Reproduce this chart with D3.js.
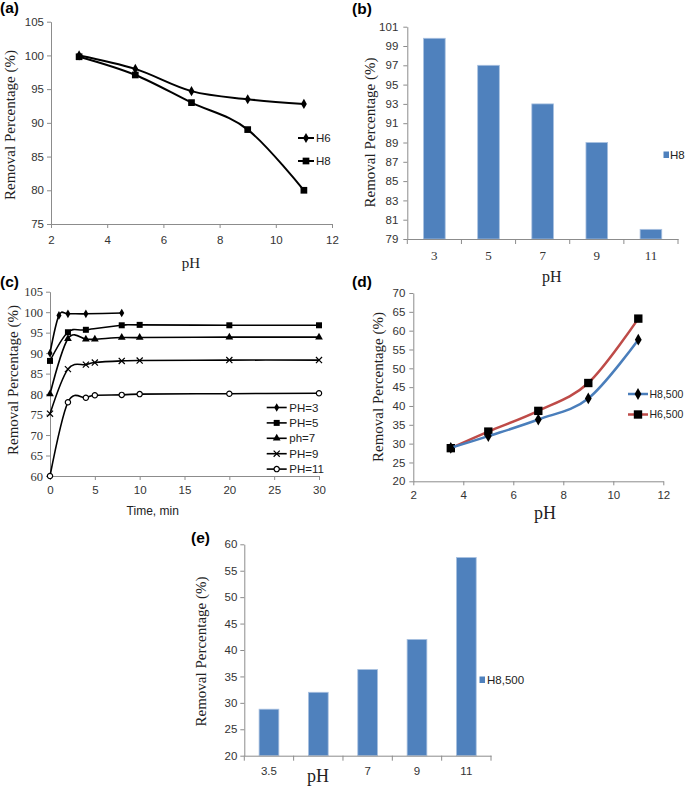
<!DOCTYPE html>
<html><head><meta charset="utf-8">
<script src="https://cdn.jsdelivr.net/npm/d3@7"></script>
<style>body{margin:0;background:#fff}</style>
</head><body><svg id="c" width="685" height="786" xmlns="http://www.w3.org/2000/svg"></svg>
<script>
// ---------- data ----------
// (a)
const pHA = [3, 5, 7, 9, 11];
const aH6 = [100, 98, 94.7, 93.5, 92.8];
const aH8 = [99.8, 97.1, 93, 89, 80];
const yTicksA = [75, 80, 85, 90, 95, 100, 105];
const xTicksA = [2, 4, 6, 8, 10, 12];
// (b)
const pHB = ["3", "5", "7", "9", "11"];
const bH8 = [99.8, 97, 93, 89, 80];
const yTicksB = [79, 81, 83, 85, 87, 89, 91, 93, 95, 97, 99, 101];
// (c)
const cNames = ["PH=3", "PH=5", "ph=7", "PH=9", "PH=11"];
const cT3 = [0, 1, 2, 4, 8];
const cPH3 = [90, 99.2, 99.6, 99.6, 99.8];
const cT5 = [0, 2, 4, 8, 10, 20, 30];
const cPH5 = [88.1, 95.1, 95.7, 96.8, 96.9, 96.8, 96.8];
const cT7 = [0, 2, 4, 5, 8, 10, 20, 30];
const cPH7 = [80, 93.5, 93.4, 93.4, 93.8, 93.8, 93.9, 93.9];
const cT9 = [0, 2, 4, 5, 8, 10, 20, 30];
const cPH9 = [75.2, 86.1, 87.2, 87.7, 88.1, 88.2, 88.3, 88.3];
const cT11 = [0, 2, 4, 5, 8, 10, 20, 30];
const cPH11 = [60, 78, 79.1, 79.7, 79.8, 80, 80.1, 80.2];
const yTicksC = [60, 65, 70, 75, 80, 85, 90, 95, 100, 105];
const xTicksC = [0, 5, 10, 15, 20, 25, 30];
// (d)
const pHD = [3.5, 5, 7, 9, 11];
const dH8 = [28.9, 32, 36.4, 42, 57.6];
const dH6 = [28.8, 33.2, 38.7, 46.1, 63.2];
const yTicksD = [20, 25, 30, 35, 40, 45, 50, 55, 60, 65, 70];
const xTicksD = [2, 4, 6, 8, 10, 12];
// (e)
const pHE = ["3.5", "5", "7", "9", "11"];
const eH8 = [28.8, 32, 36.3, 42, 57.5];
const yTicksE = [20, 25, 30, 35, 40, 45, 50, 55, 60];

// ---------- style ----------
const SERIF = "'Liberation Serif','Times New Roman',serif";
const NARROW = "'Liberation Sans',Arial,sans-serif";
const SANS = "'Liberation Sans',Arial,sans-serif";
const AX = "#8c8c8c";
const TXT = "#333";
const BLUE = "#4f81bd";
const TS = 11.5;

const svg = d3.select("#c");
svg.append("rect").attr("width", 685).attr("height", 786).attr("fill", "#fff");

function styleAxis(g, font, size) {
  g.select(".domain").attr("stroke", AX);
  g.selectAll(".tick line").attr("stroke", AX);
  g.selectAll(".tick text").attr("fill", TXT).style("font-family", font).style("font-size", size + "px");
}
function yAxis(scale, x, ticks, font, size, pad) {
  const g = svg.append("g").attr("transform", `translate(${x},0)`)
    .call(d3.axisLeft(scale).tickValues(ticks).tickSize(4).tickSizeOuter(0).tickPadding(pad));
  styleAxis(g, font, size);
  return g;
}
function xAxis(scale, y, ticks, font, size, pad) {
  const g = svg.append("g").attr("transform", `translate(0,${y})`)
    .call(d3.axisBottom(scale).tickValues(ticks).tickSize(4).tickSizeOuter(0).tickPadding(pad));
  styleAxis(g, font, size);
  return g;
}
function bandAxis(scale, y, font, size, pad, fmt) {
  const g = svg.append("g").attr("transform", `translate(0,${y})`)
    .call(d3.axisBottom(scale).tickSize(0).tickSizeOuter(0).tickPadding(pad).tickFormat(fmt || (d => d)));
  styleAxis(g, font, size);
  const r = scale.range();
  const n = scale.domain().length;
  for (let i = 0; i <= n; i++) {
    const xx = r[0] + i * (r[1] - r[0]) / n;
    g.append("line").attr("x1", xx).attr("x2", xx).attr("y1", 0).attr("y2", 5).attr("stroke", AX);
  }
  return g;
}
function yLabel(cx, cy, size) {
  svg.append("text").attr("transform", `translate(${cx},${cy}) rotate(-90)`)
    .attr("text-anchor", "middle").attr("dy", "0.35em")
    .style("font-family", SERIF).style("font-size", size + "px").attr("fill", "#222")
    .text("Removal Percentage (%)");
}
function text(x, y, s, font, size, anchor) {
  return svg.append("text").attr("x", x).attr("y", y).attr("dy", "0.35em")
    .attr("text-anchor", anchor || "middle")
    .style("font-family", font).style("font-size", size + "px")
    .attr("fill", "#222").text(s);
}
function panelTag(x, y, s) {
  svg.append("text").attr("x", x).attr("y", y).style("font-family", SANS)
    .style("font-size", "15.5px").style("font-weight", "bold").attr("fill", "#000").text(s);
}
function marker(type, size, cx, cy, fill, stroke, sw) {
  svg.append("path").attr("d", d3.symbol().type(type).size(size)())
    .attr("transform", `translate(${cx},${cy})`)
    .attr("fill", fill).attr("stroke", stroke || "none").attr("stroke-width", sw || 1);
}
function series(xs, ys, sx, sy, color, width, mType, mSize, mFill, mStroke) {
  const pts = xs.map((x, i) => [sx(x), sy(ys[i])]);
  svg.append("path").attr("d", d3.line().curve(d3.curveCardinal.tension(0))(pts))
    .attr("fill", "none").attr("stroke", color).attr("stroke-width", width);
  pts.forEach(p => marker(mType, mSize, p[0], p[1], mFill, mStroke, 1.2));
}

// ---------- (a) ----------
{
  const x = d3.scaleLinear().domain([2, 12]).range([51, 332]);
  const y = d3.scaleLinear().domain([75, 105]).range([224, 21.7]);
  yAxis(y, 51, yTicksA, NARROW, TS, 3);
  xAxis(x, 224, xTicksA, NARROW, TS, 8);
  series(pHA, aH6, x, y, "#000", 2, d3.symbolDiamond, 30, "#000");
  series(pHA, aH8, x, y, "#000", 2, d3.symbolSquare, 45, "#000");
  yLabel(10, 125, 15);
  text(191, 263, "pH", SERIF, 15);
  panelTag(0, 13, "(a)");
  const lg = [["H6", d3.symbolDiamond, 30], ["H8", d3.symbolSquare, 45]];
  lg.forEach((d, i) => {
    const yy = 138 + i * 23;
    svg.append("line").attr("x1", 298).attr("x2", 314).attr("y1", yy).attr("y2", yy).attr("stroke", "#000").attr("stroke-width", 2);
    marker(d[1], d[2], 306, yy, "#000");
    text(316, yy, d[0], NARROW, TS, "start");
  });
}

// ---------- (b) ----------
{
  const x = d3.scaleBand().domain(pHB).range([407.3, 678]).paddingInner(0.6).paddingOuter(0.3);
  const y = d3.scaleLinear().domain([79, 101]).range([239, 26.7]);
  svg.selectAll(null).data(bH8).enter().append("rect")
    .attr("x", (d, i) => x(pHB[i])).attr("width", x.bandwidth())
    .attr("y", d => y(d)).attr("height", d => y(79) - y(d))
    .attr("fill", BLUE).attr("stroke", "#a9c1e0").attr("stroke-width", 0.8);
  yAxis(y, 407.3, yTicksB, NARROW, TS, 5);
  bandAxis(x, 239, SERIF, 13, 12);
  yLabel(369.5, 132.5, 15);
  text(551.7, 276, "pH", SERIF, 16);
  panelTag(352, 14, "(b)");
  svg.append("rect").attr("x", 663.5).attr("y", 151.5).attr("width", 5.5).attr("height", 6.5).attr("fill", BLUE);
  text(670, 155, "H8", NARROW, TS, "start");
}

// ---------- (c) ----------
{
  const x = d3.scaleLinear().domain([0, 30]).range([50, 319]);
  const y = d3.scaleLinear().domain([60, 105]).range([476, 291.7]);
  yAxis(y, 50, yTicksC, SERIF, 12.5, 3);
  xAxis(x, 476, xTicksC, NARROW, TS, 6);
  const ser = [
    [cT3, cPH3, d3.symbolDiamond, 22, "#000", null],
    [cT5, cPH5, d3.symbolSquare, 36, "#000", null],
    [cT7, cPH7, d3.symbolTriangle, 26, "#000", null],
    [cT9, cPH9, d3.symbolTimes, 26, "none", "#000"],
    [cT11, cPH11, d3.symbolCircle, 22, "#fff", "#000"]
  ];
  ser.forEach(s => series(s[0], s[1], x, y, "#000", 1.6, s[2], s[3], s[4], s[5]));
  yLabel(12.5, 380, 15);
  text(152.7, 510.7, "Time, min", NARROW, 12);
  panelTag(0, 287, "(c)");
  ser.forEach((s, i) => {
    const yy = 407.5 + i * 15.4;
    svg.append("line").attr("x1", 266.7).attr("x2", 286.7).attr("y1", yy).attr("y2", yy).attr("stroke", "#000").attr("stroke-width", 1.6);
    marker(s[2], s[3], 276.7, yy, s[4], s[5], 1.2);
    text(289.3, yy, cNames[i], NARROW, TS, "start");
  });
}

// ---------- (d) ----------
{
  const x = d3.scaleLinear().domain([2, 12]).range([413.3, 663.3]);
  const y = d3.scaleLinear().domain([20, 70]).range([481.3, 293]);
  yAxis(y, 413.3, yTicksD, NARROW, TS, 4);
  xAxis(x, 481.3, xTicksD, NARROW, TS, 6);
  series(pHD, dH6, x, y, "#be4b48", 2.5, d3.symbolSquare, 70, "#000");
  series(pHD, dH8, x, y, "#4a7ebb", 2.5, d3.symbolDiamond, 40, "#000");
  yLabel(377.5, 387, 15);
  text(545, 513, "pH", SERIF, 18);
  panelTag(352, 287, "(d)");
  const lg = [["H8,500", "#4a7ebb", d3.symbolDiamond, 40], ["H6,500", "#be4b48", d3.symbolSquare, 70]];
  lg.forEach((d, i) => {
    const yy = 394 + i * 20.5;
    svg.append("line").attr("x1", 628).attr("x2", 648).attr("y1", yy).attr("y2", yy).attr("stroke", d[1]).attr("stroke-width", 2.5);
    marker(d[2], d[3], 638, yy, "#000");
    text(649.5, yy, d[0], NARROW, 10.5, "start");
  });
}

// ---------- (e) ----------
{
  const x = d3.scaleBand().domain(pHE).range([244.3, 491]).paddingInner(0.6).paddingOuter(0.3);
  const y = d3.scaleLinear().domain([20, 60]).range([755.7, 544.3]);
  svg.selectAll(null).data(eH8).enter().append("rect")
    .attr("x", (d, i) => x(pHE[i])).attr("width", x.bandwidth())
    .attr("y", d => y(d)).attr("height", d => y(20) - y(d))
    .attr("fill", BLUE).attr("stroke", "#a9c1e0").attr("stroke-width", 0.8);
  yAxis(y, 244.3, yTicksE, NARROW, TS, 3);
  // the "5" tick label is covered by the axis title in the original
  bandAxis(x, 755.7, NARROW, TS, 11, d => d === "5" ? "" : d);
  yLabel(200.8, 651.5, 15);
  text(318, 776, "pH", SERIF, 18);
  panelTag(191, 543, "(e)");
  svg.append("rect").attr("x", 479.5).attr("y", 676.5).attr("width", 5.5).attr("height", 6.5).attr("fill", BLUE);
  text(487, 680, "H8,500", NARROW, TS, "start");
}
</script></body></html>
